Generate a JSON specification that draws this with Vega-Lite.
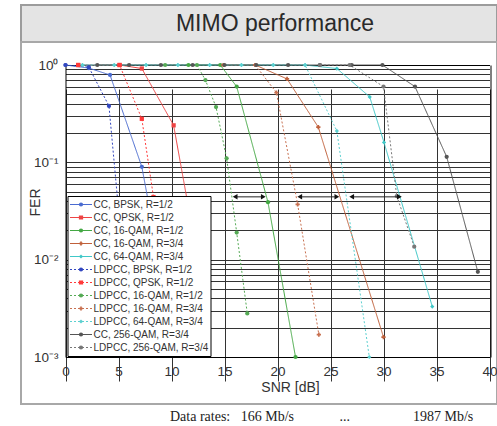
{
  "$schema": "https://vega.github.io/schema/vega-lite/v6.json",
  "padding": {"left": 20, "top": 4, "right": 0, "bottom": 0},
  "background": "white",
  "config": {"font": "Liberation Sans", "view": {"stroke": null}},
  "datasets": {
    "curves": [
      {"series": "CC, BPSK, R=1/2", "snr": 0, "fer": 1},
      {"series": "CC, BPSK, R=1/2", "snr": 2.2, "fer": 0.93},
      {"series": "CC, BPSK, R=1/2", "snr": 4.2, "fer": 0.79},
      {"series": "CC, BPSK, R=1/2", "snr": 7.2, "fer": 0.09},
      {"series": "CC, BPSK, R=1/2", "snr": 9, "fer": 0.008},
      {"series": "CC, BPSK, R=1/2", "snr": 10, "fer": 0.0015},
      {"series": "LDPCC, BPSK, R=1/2", "snr": 0, "fer": 1},
      {"series": "LDPCC, BPSK, R=1/2", "snr": 2.2, "fer": 0.95},
      {"series": "LDPCC, BPSK, R=1/2", "snr": 4.1, "fer": 0.38},
      {"series": "LDPCC, BPSK, R=1/2", "snr": 5.1, "fer": 0.025},
      {"series": "LDPCC, BPSK, R=1/2", "snr": 5.6, "fer": 0.0015},
      {"series": "CC, QPSK, R=1/2", "snr": 1.2, "fer": 1},
      {"series": "CC, QPSK, R=1/2", "snr": 5.1, "fer": 1},
      {"series": "CC, QPSK, R=1/2", "snr": 7.2, "fer": 0.92},
      {"series": "CC, QPSK, R=1/2", "snr": 10.2, "fer": 0.24},
      {"series": "CC, QPSK, R=1/2", "snr": 12.2, "fer": 0.015},
      {"series": "CC, QPSK, R=1/2", "snr": 13.3, "fer": 0.0015},
      {"series": "LDPCC, QPSK, R=1/2", "snr": 1.2, "fer": 1},
      {"series": "LDPCC, QPSK, R=1/2", "snr": 5.1, "fer": 1},
      {"series": "LDPCC, QPSK, R=1/2", "snr": 7.2, "fer": 0.28},
      {"series": "LDPCC, QPSK, R=1/2", "snr": 8.3, "fer": 0.044},
      {"series": "LDPCC, QPSK, R=1/2", "snr": 9.5, "fer": 0.0015},
      {"series": "CC, 16-QAM, R=1/2", "snr": 11.6, "fer": 1},
      {"series": "CC, 16-QAM, R=1/2", "snr": 14.6, "fer": 1},
      {"series": "CC, 16-QAM, R=1/2", "snr": 16.15, "fer": 0.6},
      {"series": "CC, 16-QAM, R=1/2", "snr": 19.1, "fer": 0.039},
      {"series": "CC, 16-QAM, R=1/2", "snr": 21.7, "fer": 0.001},
      {"series": "LDPCC, 16-QAM, R=1/2", "snr": 9.4, "fer": 1},
      {"series": "LDPCC, 16-QAM, R=1/2", "snr": 12.4, "fer": 1},
      {"series": "LDPCC, 16-QAM, R=1/2", "snr": 13.2, "fer": 0.7},
      {"series": "LDPCC, 16-QAM, R=1/2", "snr": 14.2, "fer": 0.37},
      {"series": "LDPCC, 16-QAM, R=1/2", "snr": 15.2, "fer": 0.11},
      {"series": "LDPCC, 16-QAM, R=1/2", "snr": 16.15, "fer": 0.019},
      {"series": "LDPCC, 16-QAM, R=1/2", "snr": 17.15, "fer": 0.0028},
      {"series": "CC, 16-QAM, R=3/4", "snr": 14.9, "fer": 1},
      {"series": "CC, 16-QAM, R=3/4", "snr": 17.9, "fer": 1},
      {"series": "CC, 16-QAM, R=3/4", "snr": 20.9, "fer": 0.72},
      {"series": "CC, 16-QAM, R=3/4", "snr": 23.85, "fer": 0.23},
      {"series": "CC, 16-QAM, R=3/4", "snr": 30.0, "fer": 0.0016},
      {"series": "LDPCC, 16-QAM, R=3/4", "snr": 14.9, "fer": 1},
      {"series": "LDPCC, 16-QAM, R=3/4", "snr": 17.9, "fer": 1},
      {"series": "LDPCC, 16-QAM, R=3/4", "snr": 19.9, "fer": 0.52},
      {"series": "LDPCC, 16-QAM, R=3/4", "snr": 21.9, "fer": 0.037},
      {"series": "LDPCC, 16-QAM, R=3/4", "snr": 23.9, "fer": 0.0017},
      {"series": "CC, 64-QAM, R=3/4", "snr": 1.6, "fer": 1},
      {"series": "CC, 64-QAM, R=3/4", "snr": 4.6, "fer": 1},
      {"series": "CC, 64-QAM, R=3/4", "snr": 7.6, "fer": 1},
      {"series": "CC, 64-QAM, R=3/4", "snr": 10.6, "fer": 1},
      {"series": "CC, 64-QAM, R=3/4", "snr": 13.6, "fer": 1},
      {"series": "CC, 64-QAM, R=3/4", "snr": 16.6, "fer": 1},
      {"series": "CC, 64-QAM, R=3/4", "snr": 19.6, "fer": 1},
      {"series": "CC, 64-QAM, R=3/4", "snr": 22.6, "fer": 1},
      {"series": "CC, 64-QAM, R=3/4", "snr": 25.6, "fer": 0.92},
      {"series": "CC, 64-QAM, R=3/4", "snr": 28.7, "fer": 0.47},
      {"series": "CC, 64-QAM, R=3/4", "snr": 30.05, "fer": 0.16},
      {"series": "CC, 64-QAM, R=3/4", "snr": 34.6, "fer": 0.0033},
      {"series": "LDPCC, 64-QAM, R=3/4", "snr": 1.6, "fer": 1},
      {"series": "LDPCC, 64-QAM, R=3/4", "snr": 4.6, "fer": 1},
      {"series": "LDPCC, 64-QAM, R=3/4", "snr": 7.6, "fer": 1},
      {"series": "LDPCC, 64-QAM, R=3/4", "snr": 10.6, "fer": 1},
      {"series": "LDPCC, 64-QAM, R=3/4", "snr": 13.6, "fer": 1},
      {"series": "LDPCC, 64-QAM, R=3/4", "snr": 16.6, "fer": 1},
      {"series": "LDPCC, 64-QAM, R=3/4", "snr": 19.6, "fer": 1},
      {"series": "LDPCC, 64-QAM, R=3/4", "snr": 22.6, "fer": 1},
      {"series": "LDPCC, 64-QAM, R=3/4", "snr": 25.6, "fer": 0.21},
      {"series": "LDPCC, 64-QAM, R=3/4", "snr": 28.66, "fer": 0.001},
      {"series": "CC, 256-QAM, R=3/4", "snr": 3, "fer": 1},
      {"series": "CC, 256-QAM, R=3/4", "snr": 6, "fer": 1},
      {"series": "CC, 256-QAM, R=3/4", "snr": 9, "fer": 1},
      {"series": "CC, 256-QAM, R=3/4", "snr": 12, "fer": 1},
      {"series": "CC, 256-QAM, R=3/4", "snr": 15, "fer": 1},
      {"series": "CC, 256-QAM, R=3/4", "snr": 18, "fer": 1},
      {"series": "CC, 256-QAM, R=3/4", "snr": 21, "fer": 1},
      {"series": "CC, 256-QAM, R=3/4", "snr": 24, "fer": 1},
      {"series": "CC, 256-QAM, R=3/4", "snr": 27, "fer": 1},
      {"series": "CC, 256-QAM, R=3/4", "snr": 29.9, "fer": 1},
      {"series": "CC, 256-QAM, R=3/4", "snr": 32.97, "fer": 0.6},
      {"series": "CC, 256-QAM, R=3/4", "snr": 35.96, "fer": 0.114},
      {"series": "CC, 256-QAM, R=3/4", "snr": 38.9, "fer": 0.0075},
      {"series": "LDPCC, 256-QAM, R=3/4", "snr": 24, "fer": 1},
      {"series": "LDPCC, 256-QAM, R=3/4", "snr": 26.8, "fer": 1},
      {"series": "LDPCC, 256-QAM, R=3/4", "snr": 30.0, "fer": 0.6},
      {"series": "LDPCC, 256-QAM, R=3/4", "snr": 31.25, "fer": 0.045},
      {"series": "LDPCC, 256-QAM, R=3/4", "snr": 32.9, "fer": 0.0136}
    ],
    "arrows": [
      {"a1": 16.0, "a2": 18.66, "fer": 0.0442},
      {"a1": 22.1, "a2": 25.6, "fer": 0.0442},
      {"a1": 27.0, "a2": 31.5, "fer": 0.0442}
    ]
  },
  "concat": [
    {
      "width": 476,
      "height": 37,
      "view": {"fill": "#e4e4e4", "stroke": "#9c9c9c", "strokeWidth": 2},
      "data": {"values": [{"t": "MIMO performance"}]},
      "mark": {"type": "text", "fontSize": 23, "font": "Liberation Sans", "color": "#2a2a2a", "dx": 16, "baseline": "middle"},
      "encoding": {"text": {"field": "t", "type": "nominal"}}
    },
    {
      "width": 476,
      "height": 362,
      "view": {"stroke": "#a8a8a8", "strokeWidth": 2, "fill": "white"},
      "title": {
        "text": "Data rates:\u00a0\u00a0\u00a0166 Mb/s\u00a0\u00a0\u00a0\u00a0\u00a0\u00a0\u00a0\u00a0\u00a0\u00a0\u00a0\u00a0\u00a0...\u00a0\u00a0\u00a0\u00a0\u00a0\u00a0\u00a0\u00a0\u00a0\u00a0\u00a0\u00a0\u00a0\u00a0\u00a0\u00a0\u00a0\u00a01987 Mb/s",
        "orient": "bottom", "anchor": "start", "frame": "group", "dx": 149, "offset": 6,
        "font": "Liberation Serif", "fontSize": 14, "fontWeight": "normal", "color": "#222"
      },
      "layer": [
        {
          "data": {"name": "curves"},
          "mark": {"type": "line", "strokeWidth": 1},
          "encoding": {
            "x": {
              "field": "snr", "type": "quantitative", "title": "SNR [dB]",
              "scale": {"domain": [0, 40], "range": [44.5, 468.5], "nice": false, "zero": false},
              "axis": {
                "orient": "bottom", "offset": -47,
                "values": [0, 5, 10, 15, 20, 25, 30, 35, 40],
                "grid": true, "gridColor": "#333", "gridWidth": 1, "ticks": false,
                "domain": true, "domainColor": "black", "domainWidth": 1,
                "labelFlush": false, "labelFont": "Liberation Sans", "labelFontSize": 13.5, "labelColor": "#333", "labelPadding": 7,
                "titleFont": "Liberation Sans", "titleFontSize": 14, "titleFontWeight": "normal", "titleColor": "#333", "titleX": 269, "titlePadding": 3
              }
            },
            "y": {
              "field": "fer", "type": "quantitative", "title": "FER",
              "scale": {"type": "log", "domain": [0.001, 1], "range": [315, 23], "nice": false},
              "axis": {
                "orient": "left", "offset": -44.5,
                "values": [1, 0.9, 0.8, 0.7, 0.6, 0.5, 0.4, 0.3, 0.2, 0.1, 0.09, 0.08, 0.07, 0.06, 0.05, 0.04, 0.03, 0.02, 0.01, 0.009, 0.008, 0.007, 0.006, 0.005, 0.004, 0.003, 0.002, 0.001],
                "grid": true, "gridColor": "#333", "gridWidth": 1, "ticks": false,
                "domain": true, "domainColor": "black", "domainWidth": 1,
                "labelExpr": "datum.value == 1 ? '10⁰' : datum.value == 0.1 ? '10⁻¹' : datum.value == 0.01 ? '10⁻²' : datum.value == 0.001 ? '10⁻³' : ''",
                "labelOverlap": false, "labelFont": "Liberation Sans", "labelFontSize": 13.5, "labelColor": "#333", "labelPadding": 7.5,
                "titleFont": "Liberation Sans", "titleFontSize": 14, "titleFontWeight": "normal", "titleColor": "#333", "titleX": -23.5, "titleY": 160
              }
            },
            "color": {
              "field": "series", "type": "nominal",
              "scale": {
                "domain": ["CC, BPSK, R=1/2", "CC, QPSK, R=1/2", "CC, 16-QAM, R=1/2", "CC, 16-QAM, R=3/4", "CC, 64-QAM, R=3/4", "LDPCC, BPSK, R=1/2", "LDPCC, QPSK, R=1/2", "LDPCC, 16-QAM, R=1/2", "LDPCC, 16-QAM, R=3/4", "LDPCC, 64-QAM, R=3/4", "CC, 256-QAM, R=3/4", "LDPCC, 256-QAM, R=3/4"],
                "range": ["#4a6bd0", "#ee4444", "#44a844", "#c0603a", "#40c8c8", "#3347c0", "#ff3a3a", "#55aa55", "#c87050", "#5cd0d0", "#555555", "#777777"]
              },
              "legend": {
                "title": null, "orient": "none", "legendX": 46.5, "legendY": 154, "fillColor": "white", "strokeColor": "black", "padding": 2,
                "symbolType": "stroke", "symbolSize": 484, "symbolStrokeWidth": 1, "clipHeight": 13, "rowPadding": 0,
                "labelFont": "Liberation Sans", "labelFontSize": 10, "labelColor": "#333", "labelOffset": 1, "labelLimit": 0, "symbolOffset": 0
              }
            },
            "strokeDash": {
              "field": "series", "type": "nominal",
              "scale": {
                "domain": ["CC, BPSK, R=1/2", "CC, QPSK, R=1/2", "CC, 16-QAM, R=1/2", "CC, 16-QAM, R=3/4", "CC, 64-QAM, R=3/4", "LDPCC, BPSK, R=1/2", "LDPCC, QPSK, R=1/2", "LDPCC, 16-QAM, R=1/2", "LDPCC, 16-QAM, R=3/4", "LDPCC, 64-QAM, R=3/4", "CC, 256-QAM, R=3/4", "LDPCC, 256-QAM, R=3/4"],
                "range": [[1, 0], [1, 0], [1, 0], [1, 0], [1, 0], [2, 2], [2, 2], [2, 2], [2, 2], [2, 2], [1, 0], [2, 2]]
              },
              "legend": {
                "title": null, "orient": "none", "legendX": 46.5, "legendY": 154, "fillColor": "white", "strokeColor": "black", "padding": 2,
                "symbolType": "stroke", "symbolSize": 484, "symbolStrokeWidth": 1, "clipHeight": 13, "rowPadding": 0,
                "labelFont": "Liberation Sans", "labelFontSize": 10, "labelColor": "#333", "labelOffset": 1, "labelLimit": 0, "symbolOffset": 0
              }
            }
          }
        },
        {
          "data": {"name": "curves"},
          "mark": {"type": "point", "filled": true, "opacity": 1},
          "encoding": {
            "x": {"field": "snr", "type": "quantitative", "title": "SNR [dB]", "axis": null},
            "y": {"field": "fer", "type": "quantitative", "title": "FER", "axis": null},
            "color": {
              "field": "series", "type": "nominal",
              "legend": {
                "title": null, "orient": "none", "legendX": 46.5, "legendY": 154, "padding": 2,
                "symbolSize": 18, "symbolStrokeWidth": 0, "clipHeight": 13, "rowPadding": 0,
                "labelFontSize": 10, "labelExpr": "''", "labelOffset": 1, "symbolOffset": 6.5
              }
            },
            "shape": {
              "field": "series", "type": "nominal",
              "scale": {
                "domain": ["CC, BPSK, R=1/2", "CC, QPSK, R=1/2", "CC, 16-QAM, R=1/2", "CC, 16-QAM, R=3/4", "CC, 64-QAM, R=3/4", "LDPCC, BPSK, R=1/2", "LDPCC, QPSK, R=1/2", "LDPCC, 16-QAM, R=1/2", "LDPCC, 16-QAM, R=3/4", "LDPCC, 64-QAM, R=3/4", "CC, 256-QAM, R=3/4", "LDPCC, 256-QAM, R=3/4"],
                "range": ["circle", "square", "circle", "cross", "diamond", "circle", "square", "circle", "cross", "diamond", "circle", "circle"]
              },
              "legend": {
                "title": null, "orient": "none", "legendX": 46.5, "legendY": 154, "padding": 2,
                "symbolSize": 18, "symbolStrokeWidth": 0, "clipHeight": 13, "rowPadding": 0,
                "labelFontSize": 10, "labelExpr": "''", "labelOffset": 1, "symbolOffset": 6.5
              }
            },
            "size": {
              "field": "series", "type": "nominal",
              "scale": {
                "domain": ["CC, BPSK, R=1/2", "CC, QPSK, R=1/2", "CC, 16-QAM, R=1/2", "CC, 16-QAM, R=3/4", "CC, 64-QAM, R=3/4", "LDPCC, BPSK, R=1/2", "LDPCC, QPSK, R=1/2", "LDPCC, 16-QAM, R=1/2", "LDPCC, 16-QAM, R=3/4", "LDPCC, 64-QAM, R=3/4", "CC, 256-QAM, R=3/4", "LDPCC, 256-QAM, R=3/4"],
                "range": [18, 18, 9, 30, 28, 18, 18, 9, 30, 28, 9, 9]
              },
              "legend": null
            }
          }
        },
        {
          "data": {"name": "arrows"},
          "mark": {"type": "rule", "color": "#222", "strokeWidth": 1},
          "encoding": {
            "x": {
              "field": "a1", "type": "quantitative", "title": null,
              "axis": {"orient": "top", "offset": -23, "labels": false, "ticks": false, "grid": false, "domain": true, "domainColor": "black", "domainWidth": 1, "title": null}
            },
            "x2": {"field": "a2"},
            "y": {
              "field": "fer", "type": "quantitative", "title": null,
              "axis": {"orient": "right", "offset": -6.5, "labels": false, "ticks": false, "grid": false, "domain": true, "domainColor": "black", "domainWidth": 1, "title": null}
            }
          }
        },
        {
          "data": {"name": "arrows"},
          "mark": {"type": "point", "shape": "triangle-left", "filled": true, "color": "#111", "size": 30, "opacity": 1},
          "encoding": {
            "x": {"field": "a1", "type": "quantitative", "axis": null},
            "y": {"field": "fer", "type": "quantitative", "axis": null}
          }
        },
        {
          "data": {"name": "arrows"},
          "mark": {"type": "point", "shape": "triangle-right", "filled": true, "color": "#111", "size": 30, "opacity": 1},
          "encoding": {
            "x": {"field": "a2", "type": "quantitative", "axis": null},
            "y": {"field": "fer", "type": "quantitative", "axis": null}
          }
        }
      ],
      "resolve": {
        "axis": {"x": "independent", "y": "independent"},
        "legend": {"color": "independent", "shape": "independent", "strokeDash": "independent"}
      }
    }
  ],
  "columns": 1,
  "align": "none",
  "bounds": "full",
  "spacing": -2
}
